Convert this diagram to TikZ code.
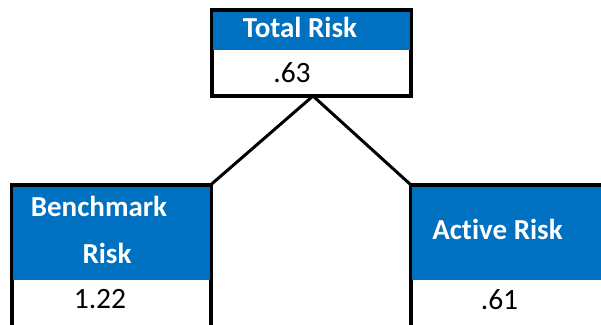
\documentclass[tikz,border=0pt]{standalone}
\usepackage{fontspec}
\setmainfont[Ligatures=NoCommon]{Carlito}
\definecolor{hdrblue}{HTML}{0070C0}
\begin{document}
\begin{tikzpicture}[x=1pt,y=-1pt,
  boxframe/.style={draw=black,line width=4pt,fill=white,inner sep=0pt,outer sep=0pt,rectangle},
  hdr/.style={fill=hdrblue,draw=none,inner sep=0pt,outer sep=0pt,rectangle},
  hdrtext/.style={text=white,font=\fontsize{29}{35}\selectfont\bfseries,anchor=base,inner sep=0pt},
  valtext/.style={text=black,font=\fontsize{29.5}{35}\selectfont,anchor=base,inner sep=0pt},
  link/.style={draw=black,line width=3pt}]
\useasboundingbox (0,0) rectangle (601,324);
\clip (0,0) rectangle (601,324);
% top box
\node[boxframe,minimum width=199pt,minimum height=86pt] (top) at (311.5,53) {};
\node[hdr,minimum width=197pt,minimum height=38pt] (tophdr) at (311.5,31) {};
% left box
\node[boxframe,minimum width=198.5pt,minimum height=200pt] (left) at (111.25,285) {};
\node[hdr,minimum width=196.5pt,minimum height=93pt] (lefthdr) at (111.25,233.5) {};
% right box
\node[boxframe,minimum width=220pt,minimum height=200pt] (right) at (521,285) {};
\node[hdr,minimum width=218pt,minimum height=93pt] (righthdr) at (521,233.5) {};
% texts
\node[hdrtext] (t1) at (300,37) {Total Risk};
\node[valtext] (v1) at (292,82) {.63};
\node[hdrtext] (t2a) at (99,216) {Benchmark};
\node[hdrtext] (t2b) at (107,263) {Risk};
\node[valtext] (v2) at (100,308) {1.22};
\node[hdrtext] (t3) at (497.5,239) {Active Risk};
\node[valtext] (v3) at (499.5,309) {.61};
% connectors
\coordinate (apex) at (313,96);
\draw[link] (apex) -- (left.north east);
\draw[link] (apex) -- (right.north west);
\end{tikzpicture}
\end{document}
